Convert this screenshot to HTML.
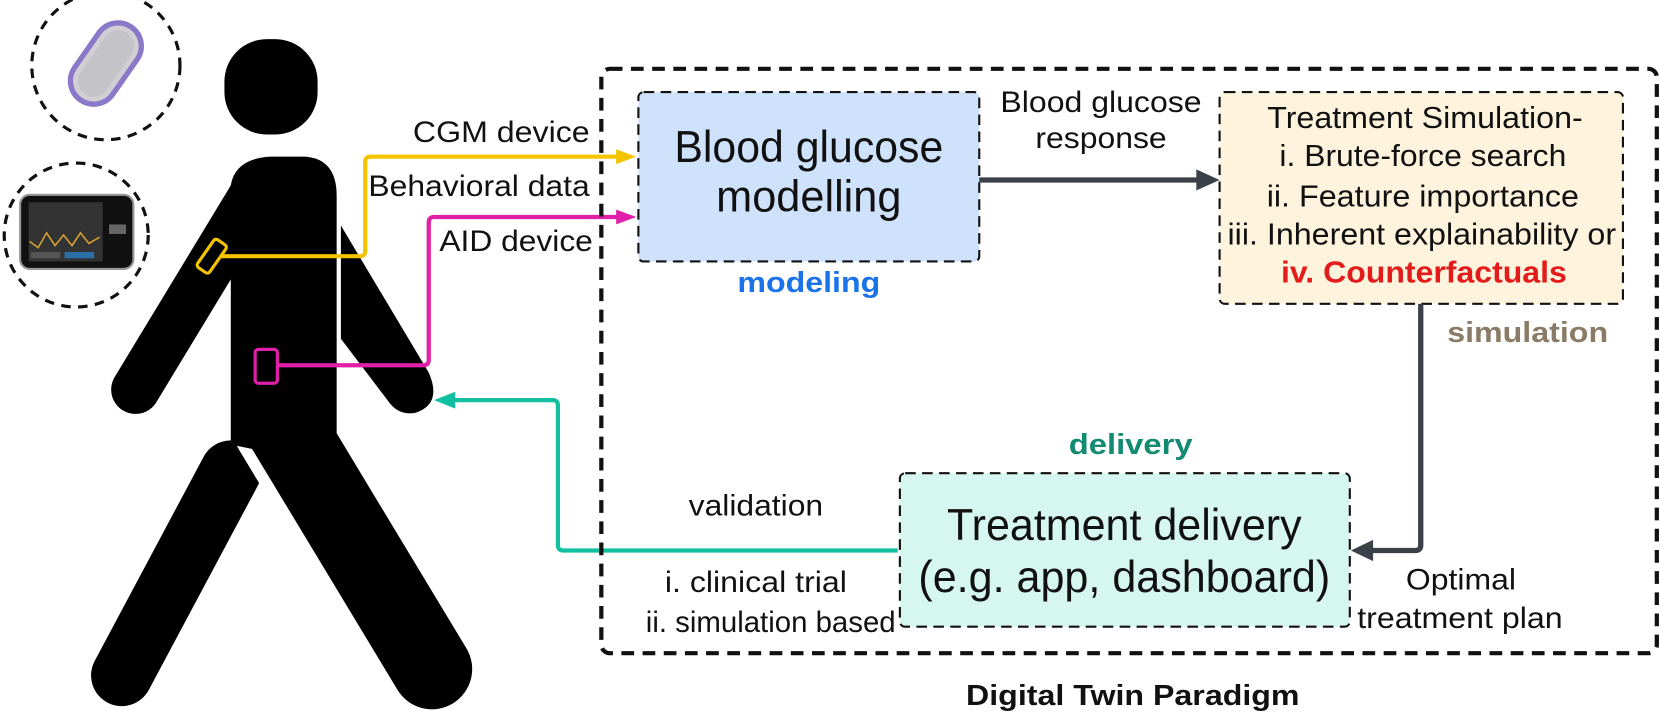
<!DOCTYPE html>
<html><head><meta charset="utf-8"><style>
html,body{margin:0;padding:0;background:#fff;}
svg{display:block;}
text{font-family:"Liberation Sans",sans-serif;}
</style></head><body>
<svg width="1660" height="722" viewBox="0 0 1568 682" preserveAspectRatio="none" xmlns="http://www.w3.org/2000/svg">
<circle cx="100" cy="62" r="70" fill="none" stroke="#111" stroke-width="3" stroke-dasharray="9 7"/>
<g transform="translate(100,60) rotate(35)">
<rect x="-22" y="-42" width="44" height="84" rx="22" fill="#cfcfd4" stroke="#8a78c8" stroke-width="5"/>
<rect x="-15" y="-35" width="30" height="70" rx="15" fill="#c4c4c8"/>
</g>
<circle cx="72" cy="222" r="68" fill="none" stroke="#111" stroke-width="3" stroke-dasharray="9 7"/>
<rect x="19" y="184" width="107" height="70" rx="9" fill="#111" stroke="#999" stroke-width="2"/>
<rect x="27" y="191" width="70" height="56" fill="#333"/>
<polyline points="28,228 36,234 44,220 52,232 60,222 68,232 76,220 84,230 94,224" fill="none" stroke="#d4a030" stroke-width="1.5"/>
<rect x="29" y="238" width="28" height="6" fill="#555"/><rect x="61" y="238" width="28" height="6" fill="#2a6fa8"/>
<rect x="103" y="212" width="16" height="9" fill="#666"/>
<g fill="#000">
<rect x="212" y="37" width="88" height="90" rx="40"/>
<line x1="218" y1="445" x2="115" y2="638" stroke="#000" stroke-width="58" stroke-linecap="round"/>
<line x1="268" y1="400" x2="408" y2="632" stroke="#fff" stroke-width="98" stroke-linecap="round"/>
<path d="M218,175 Q222,150 255,148 L288,148 Q318,150 318,185 L318,440 L218,420 Z"/>
<line x1="245" y1="175" x2="128" y2="368" stroke="#000" stroke-width="46" stroke-linecap="round"/>
<line x1="268" y1="400" x2="408" y2="632" stroke="#000" stroke-width="76" stroke-linecap="round"/>
<path d="M322,213 L405,352 Q418,382 392,390 Q376,393 366,378 L322,320 Z"/>
</g>
<rect x="193" y="226" width="14" height="32" rx="3" fill="none" stroke="#f5c400" stroke-width="3" transform="rotate(35 200 242)"/>
<rect x="241" y="330" width="21" height="32" rx="3" fill="none" stroke="#e020a8" stroke-width="3"/>
<path d="M208,242 L340,242 Q345,242 345,237 L345,153 Q345,148 350,148 L590,148" fill="none" stroke="#f5c400" stroke-width="4"/>
<path d="M582,141 L601,148 L582,155 Z" fill="#f5c400"/>
<path d="M262,345 L400,345 Q405,345 405,340 L405,210 Q405,205 410,205 L590,205" fill="none" stroke="#e020a8" stroke-width="4"/>
<path d="M582,198 L601,205 L582,212 Z" fill="#e020a8"/>
<path d="M848,520 L532,520 Q527,520 527,515 L527,383 Q527,378 522,378 L425,378" fill="none" stroke="#10c0a0" stroke-width="4"/>
<path d="M430,370 L410,378 L430,386 Z" fill="#10c0a0"/>
<g font-size="28" fill="#111" text-anchor="end">
<text x="557" y="134" textLength="167" lengthAdjust="spacingAndGlyphs">CGM device</text>
<text x="557" y="185" textLength="209" lengthAdjust="spacingAndGlyphs">Behavioral data</text>
<text x="560" y="237" textLength="145" lengthAdjust="spacingAndGlyphs">AID device</text>
</g>
<rect x="568" y="65" width="997" height="552" rx="8" fill="none" stroke="#111" stroke-width="4" stroke-dasharray="12 8"/>
<rect x="603" y="87" width="322" height="160" rx="5" fill="#cfe2fb" stroke="#111" stroke-width="2" stroke-dasharray="10 6"/>
<g font-size="42" fill="#111" text-anchor="middle">
<text x="764" y="153" textLength="254" lengthAdjust="spacingAndGlyphs">Blood glucose</text>
<text x="764" y="200" textLength="175" lengthAdjust="spacingAndGlyphs">modelling</text>
</g>
<text x="764" y="276" font-size="27" font-weight="bold" fill="#1a73e8" text-anchor="middle" textLength="135" lengthAdjust="spacingAndGlyphs">modeling</text>
<line x1="925" y1="170" x2="1135" y2="170" stroke="#3c4049" stroke-width="5"/>
<path d="M1130,160 L1152,170 L1130,180 Z" fill="#3c4049"/>
<g font-size="28" fill="#111" text-anchor="middle">
<text x="1040" y="106" textLength="190" lengthAdjust="spacingAndGlyphs">Blood glucose</text>
<text x="1040" y="140" textLength="124" lengthAdjust="spacingAndGlyphs">response</text>
</g>
<rect x="1152" y="87" width="381" height="200" rx="5" fill="#fef3dd" stroke="#111" stroke-width="2" stroke-dasharray="10 6"/>
<g font-size="29" fill="#111" text-anchor="middle">
<text x="1346" y="121" textLength="298" lengthAdjust="spacingAndGlyphs">Treatment Simulation-</text>
<text x="1344" y="157" textLength="271" lengthAdjust="spacingAndGlyphs">i. Brute-force search</text>
<text x="1344" y="195" textLength="295" lengthAdjust="spacingAndGlyphs">ii. Feature importance</text>
<text x="1343" y="231" textLength="367" lengthAdjust="spacingAndGlyphs">iii. Inherent explainability or</text>
<text x="1345" y="267" fill="#e31b1b" font-weight="bold" textLength="270" lengthAdjust="spacingAndGlyphs">iv. Counterfactuals</text>
</g>
<text x="1443" y="323" font-size="27" font-weight="bold" fill="#8a7b66" text-anchor="middle" textLength="152" lengthAdjust="spacingAndGlyphs">simulation</text>
<path d="M1342,287 L1342,515 Q1342,520 1337,520 L1295,520" fill="none" stroke="#3c4049" stroke-width="5"/>
<path d="M1297,510 L1276,520 L1297,530 Z" fill="#3c4049"/>
<rect x="850" y="447" width="425" height="145" rx="5" fill="#d5f7f0" stroke="#111" stroke-width="2" stroke-dasharray="10 6"/>
<g font-size="42" fill="#111" text-anchor="middle">
<text x="1062" y="510" textLength="335" lengthAdjust="spacingAndGlyphs">Treatment delivery</text>
<text x="1062" y="559" textLength="389" lengthAdjust="spacingAndGlyphs">(e.g. app, dashboard)</text>
</g>
<text x="1068" y="429" font-size="27" font-weight="bold" fill="#138a72" text-anchor="middle" textLength="117" lengthAdjust="spacingAndGlyphs">delivery</text>
<g font-size="28" fill="#111" text-anchor="middle">
<text x="714" y="487" textLength="127" lengthAdjust="spacingAndGlyphs">validation</text>
<text x="714" y="559" textLength="172" lengthAdjust="spacingAndGlyphs">i. clinical trial</text>
<text x="728" y="597" textLength="236" lengthAdjust="spacingAndGlyphs">ii. simulation based</text>
<text x="1380" y="557" textLength="104" lengthAdjust="spacingAndGlyphs">Optimal</text>
<text x="1379" y="593" textLength="194" lengthAdjust="spacingAndGlyphs">treatment plan</text>
</g>
<text x="1070" y="666" font-size="27" font-weight="bold" fill="#111" text-anchor="middle" textLength="315" lengthAdjust="spacingAndGlyphs">Digital Twin Paradigm</text>
</svg>
</body></html>
